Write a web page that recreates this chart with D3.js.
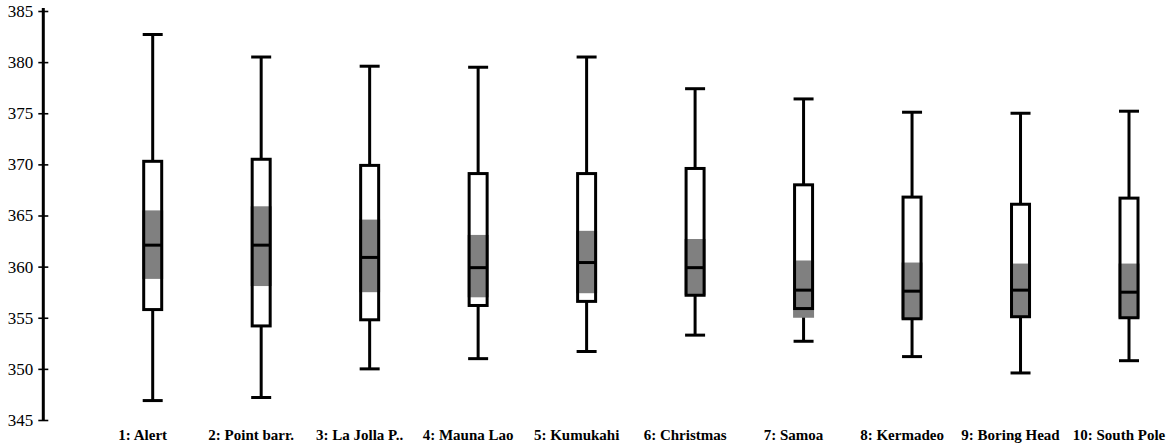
<!DOCTYPE html>
<html>
<head>
<meta charset="utf-8">
<script src="https://cdn.jsdelivr.net/npm/d3@7"></script>
<style>
  body { margin: 0; background: #fff; }
  svg { display: block; }
</style>
</head>
<body>
<div id="chart"></div>
<script>
// stations along the x axis
var stations = ["1: Alert", "2: Point barr.", "3: La Jolla P..", "4: Mauna Lao", "5: Kumukahi",
  "6: Christmas", "7: Samoa", "8: Kermadeo", "9: Boring Head", "10: South Pole"];

// box plot values (ppm)
var whiskerLow  = [346.9, 347.2, 350.0, 351.0, 351.7, 353.3, 352.7, 351.2, 349.6, 350.8];
var boxLow      = [355.8, 354.2, 354.8, 356.2, 356.6, 357.2, 355.9, 354.9, 355.1, 355.0];
var median      = [362.1, 362.1, 360.9, 359.9, 360.4, 359.9, 357.7, 357.6, 357.7, 357.5];
var boxHigh     = [370.3, 370.5, 369.9, 369.1, 369.1, 369.6, 368.0, 366.8, 366.1, 366.7];
var whiskerHigh = [382.7, 380.5, 379.6, 379.5, 380.5, 377.4, 376.4, 375.1, 375.0, 375.2];
// shaded band
var bandLow     = [358.8, 358.1, 357.5, 357.0, 357.4, 357.2, 355.0, 354.9, 355.1, 355.0];
var bandHigh    = [365.5, 365.9, 364.6, 363.1, 363.5, 362.7, 360.6, 360.4, 360.3, 360.3];

var yTicks = [345, 350, 355, 360, 365, 370, 375, 380, 385];

var width = 1167, height = 444;
var boxW = 18;
var serif = "'Liberation Serif', 'Times New Roman', serif";

var svg = d3.select("#chart").append("svg")
  .attr("width", width)
  .attr("height", height);

var x = d3.scalePoint().domain(stations).range([152.7, 1129]);
var y = d3.scaleLinear().domain([345, 385]).range([420, 11]);

// y axis
var yAxis = svg.append("g")
  .attr("transform", "translate(43.3,0)")
  .call(d3.axisLeft(y).tickValues(yTicks).tickSizeInner(5).tickSizeOuter(0).tickPadding(5));
yAxis.attr("font-family", null);
yAxis.select(".domain").attr("stroke", "#000").attr("stroke-width", 3)
  .attr("d", "M0," + (y(385) - 3) + "V" + y(345));
yAxis.selectAll(".tick line").attr("x2", 5).attr("x1", -5).attr("stroke-width", 1.6);
yAxis.selectAll(".tick text")
  .style("font-family", serif)
  .style("font-size", "17px")
  .attr("fill", "#000");

var rows = stations.map(function (s, i) {
  return { name: s, wl: whiskerLow[i], q1: boxLow[i], med: median[i], q3: boxHigh[i],
    wh: whiskerHigh[i], bl: bandLow[i], bh: bandHigh[i] };
});

var g = svg.selectAll("g.box").data(rows).enter().append("g")
  .attr("class", "box")
  .attr("transform", function (d) { return "translate(" + x(d.name) + ",0)"; });

// whiskers
g.append("line")
  .attr("y1", function (d) { return y(d.wh); })
  .attr("y2", function (d) { return y(d.wl); })
  .attr("stroke", "#000").attr("stroke-width", 3);
["wh", "wl"].forEach(function (k) {
  g.append("line")
    .attr("x1", -10).attr("x2", 10)
    .attr("y1", function (d) { return y(d[k]); })
    .attr("y2", function (d) { return y(d[k]); })
    .attr("stroke", "#000").attr("stroke-width", 3);
});

// white box body
g.append("rect")
  .attr("x", -boxW / 2)
  .attr("y", function (d) { return y(d.q3); })
  .attr("width", boxW)
  .attr("height", function (d) { return y(d.q1) - y(d.q3); })
  .attr("fill", "#fff");

// grey band
g.append("rect")
  .attr("x", -boxW / 2 - 1.5)
  .attr("y", function (d) { return y(d.bh); })
  .attr("width", boxW + 3)
  .attr("height", function (d) { return y(d.bl) - y(d.bh); })
  .attr("fill", "#808080");

// box outline
g.append("rect")
  .attr("x", -boxW / 2)
  .attr("y", function (d) { return y(d.q3); })
  .attr("width", boxW)
  .attr("height", function (d) { return y(d.q1) - y(d.q3); })
  .attr("fill", "none")
  .attr("stroke", "#000").attr("stroke-width", 3);

// median
g.append("line")
  .attr("x1", -boxW / 2).attr("x2", boxW / 2)
  .attr("y1", function (d) { return y(d.med); })
  .attr("y2", function (d) { return y(d.med); })
  .attr("stroke", "#000").attr("stroke-width", 3);

// category labels
g.append("text")
  .attr("x", -10)
  .attr("y", 440)
  .attr("text-anchor", "middle")
  .style("font-family", serif)
  .style("font-size", "15px")
  .style("font-weight", "bold")
  .attr("fill", "#000")
  .text(function (d) { return d.name; });
</script>
</body>
</html>
